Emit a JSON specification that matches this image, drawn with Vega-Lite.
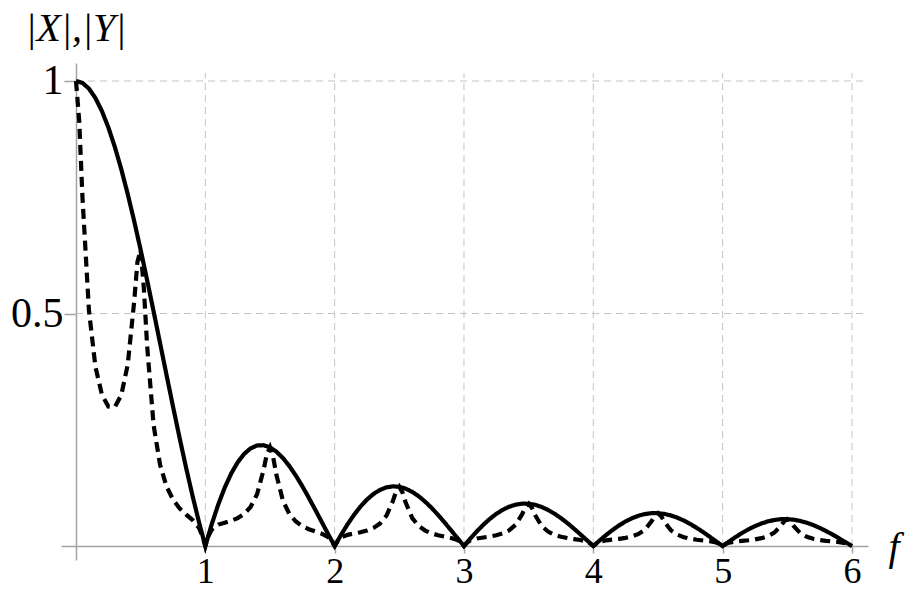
{
"$schema": "https://vega.github.io/schema/vega-lite/v6.json",
"autosize": "none",
"width": 807,
"height": 497,
"padding": {"left": 61, "top": 63, "right": 42, "bottom": 30},
"background": "white",
"config": {"view": {"stroke": null}, "axis": {"grid": false, "domainColor": "#a3a3a3", "tickColor": "#a3a3a3", "domainWidth": 1.5, "tickWidth": 1.5, "labelFont": "Liberation Serif", "labelColor": "black", "titleFont": "Liberation Serif", "titleColor": "black", "titleFontWeight": "normal", "titleFontStyle": "italic"}},
"datasets": {
"vgrid": [{"f":1},{"f":2},{"f":3},{"f":4},{"f":5},{"f":6}],
"hgrid": [{"v":0.5},{"v":1}],
"curves": [
{"s":"X","f":0,"v":1},{"s":"X","f":0.05,"v":0.99589},{"s":"X","f":0.1,"v":0.98363},{"s":"X","f":0.15,"v":0.9634},{"s":"X","f":0.2,"v":0.93549},{"s":"X","f":0.25,"v":0.90032},{"s":"X","f":0.3,"v":0.85839},{"s":"X","f":0.35,"v":0.81033},{"s":"X","f":0.4,"v":0.75683},{"s":"X","f":0.45,"v":0.69865},
{"s":"X","f":0.5,"v":0.63662},{"s":"X","f":0.55,"v":0.57162},{"s":"X","f":0.6,"v":0.50455},{"s":"X","f":0.65,"v":0.43633},{"s":"X","f":0.7,"v":0.36788},{"s":"X","f":0.75,"v":0.30011},{"s":"X","f":0.8,"v":0.23387},{"s":"X","f":0.85,"v":0.17001},{"s":"X","f":0.9,"v":0.10929},{"s":"X","f":0.95,"v":0.05241},
{"s":"X","f":1,"v":0},{"s":"X","f":1.05,"v":0.04742},{"s":"X","f":1.1,"v":0.08942},{"s":"X","f":1.15,"v":0.12566},{"s":"X","f":1.2,"v":0.15592},{"s":"X","f":1.25,"v":0.18006},{"s":"X","f":1.3,"v":0.19809},{"s":"X","f":1.35,"v":0.21009},{"s":"X","f":1.4,"v":0.21624},{"s":"X","f":1.45,"v":0.21682},
{"s":"X","f":1.5,"v":0.21221},{"s":"X","f":1.55,"v":0.20283},{"s":"X","f":1.6,"v":0.18921},{"s":"X","f":1.65,"v":0.17189},{"s":"X","f":1.7,"v":0.15148},{"s":"X","f":1.75,"v":0.12862},{"s":"X","f":1.8,"v":0.10394},{"s":"X","f":1.85,"v":0.07811},{"s":"X","f":1.9,"v":0.05177},{"s":"X","f":1.95,"v":0.02554},
{"s":"X","f":2,"v":0},{"s":"X","f":2.05,"v":0.02429},{"s":"X","f":2.1,"v":0.04684},{"s":"X","f":2.15,"v":0.06721},{"s":"X","f":2.2,"v":0.08505},{"s":"X","f":2.25,"v":0.10004},{"s":"X","f":2.3,"v":0.11196},{"s":"X","f":2.35,"v":0.12069},{"s":"X","f":2.4,"v":0.12614},{"s":"X","f":2.45,"v":0.12832},
{"s":"X","f":2.5,"v":0.12732},{"s":"X","f":2.55,"v":0.12329},{"s":"X","f":2.6,"v":0.11643},{"s":"X","f":2.65,"v":0.10703},{"s":"X","f":2.7,"v":0.09538},{"s":"X","f":2.75,"v":0.08185},{"s":"X","f":2.8,"v":0.06682},{"s":"X","f":2.85,"v":0.05071},{"s":"X","f":2.9,"v":0.03392},{"s":"X","f":2.95,"v":0.01688},
{"s":"X","f":3,"v":0},{"s":"X","f":3.05,"v":0.01633},{"s":"X","f":3.1,"v":0.03173},{"s":"X","f":3.15,"v":0.04588},{"s":"X","f":3.2,"v":0.05847},{"s":"X","f":3.25,"v":0.06926},{"s":"X","f":3.3,"v":0.07804},{"s":"X","f":3.35,"v":0.08466},{"s":"X","f":3.4,"v":0.08904},{"s":"X","f":3.45,"v":0.09113},
{"s":"X","f":3.5,"v":0.09095},{"s":"X","f":3.55,"v":0.08856},{"s":"X","f":3.6,"v":0.08409},{"s":"X","f":3.65,"v":0.0777},{"s":"X","f":3.7,"v":0.0696},{"s":"X","f":3.75,"v":0.06002},{"s":"X","f":3.8,"v":0.04924},{"s":"X","f":3.85,"v":0.03754},{"s":"X","f":3.9,"v":0.02522},{"s":"X","f":3.95,"v":0.01261},
{"s":"X","f":4,"v":0},{"s":"X","f":4.05,"v":0.01229},{"s":"X","f":4.1,"v":0.02399},{"s":"X","f":4.15,"v":0.03482},{"s":"X","f":4.2,"v":0.04455},{"s":"X","f":4.25,"v":0.05296},{"s":"X","f":4.3,"v":0.05989},{"s":"X","f":4.35,"v":0.0652},{"s":"X","f":4.4,"v":0.0688},{"s":"X","f":4.45,"v":0.07065},
{"s":"X","f":4.5,"v":0.07074},{"s":"X","f":4.55,"v":0.0691},{"s":"X","f":4.6,"v":0.06581},{"s":"X","f":4.65,"v":0.06099},{"s":"X","f":4.7,"v":0.05479},{"s":"X","f":4.75,"v":0.04739},{"s":"X","f":4.8,"v":0.03898},{"s":"X","f":4.85,"v":0.0298},{"s":"X","f":4.9,"v":0.02007},{"s":"X","f":4.95,"v":0.01006},
{"s":"X","f":5,"v":0},{"s":"X","f":5.05,"v":0.00986},{"s":"X","f":5.1,"v":0.01929},{"s":"X","f":5.15,"v":0.02806},{"s":"X","f":5.2,"v":0.03598},{"s":"X","f":5.25,"v":0.04287},{"s":"X","f":5.3,"v":0.04859},{"s":"X","f":5.35,"v":0.05301},{"s":"X","f":5.4,"v":0.05606},{"s":"X","f":5.45,"v":0.05769},
{"s":"X","f":5.5,"v":0.05787},{"s":"X","f":5.55,"v":0.05665},{"s":"X","f":5.6,"v":0.05406},{"s":"X","f":5.65,"v":0.0502},{"s":"X","f":5.7,"v":0.04518},{"s":"X","f":5.75,"v":0.03914},{"s":"X","f":5.8,"v":0.03226},{"s":"X","f":5.85,"v":0.0247},{"s":"X","f":5.9,"v":0.01667},{"s":"X","f":5.95,"v":0.00837},
{"s":"X","f":6,"v":0},
{"s":"Y","f":0,"v":1},{"s":"Y","f":0.025,"v":0.91355},{"s":"Y","f":0.05,"v":0.74984},{"s":"Y","f":0.1,"v":0.507},{"s":"Y","f":0.15,"v":0.38579},{"s":"Y","f":0.2,"v":0.32597},{"s":"Y","f":0.25,"v":0.30011},{"s":"Y","f":0.3,"v":0.29911},{"s":"Y","f":0.35,"v":0.3245},{"s":"Y","f":0.4,"v":0.3901},{"s":"Y","f":0.45,"v":0.52604},{"s":"Y","f":0.475,"v":0.61093},
{"s":"Y","f":0.5,"v":0.63662},{"s":"Y","f":0.525,"v":0.55275},{"s":"Y","f":0.55,"v":0.43039},{"s":"Y","f":0.6,"v":0.26007},{"s":"Y","f":0.65,"v":0.17473},{"s":"Y","f":0.7,"v":0.12819},{"s":"Y","f":0.75,"v":0.10004},{"s":"Y","f":0.8,"v":0.08149},{"s":"Y","f":0.85,"v":0.06808},{"s":"Y","f":0.9,"v":0.05633},{"s":"Y","f":0.95,"v":0.03946},{"s":"Y","f":0.975,"v":0.02342},
{"s":"Y","f":1,"v":0},{"s":"Y","f":1.025,"v":0.02228},{"s":"Y","f":1.05,"v":0.0357},{"s":"Y","f":1.1,"v":0.04609},{"s":"Y","f":1.15,"v":0.05032},{"s":"Y","f":1.2,"v":0.05433},{"s":"Y","f":1.25,"v":0.06002},{"s":"Y","f":1.3,"v":0.06902},{"s":"Y","f":1.35,"v":0.08413},{"s":"Y","f":1.4,"v":0.11146},{"s":"Y","f":1.45,"v":0.16325},{"s":"Y","f":1.475,"v":0.19674},
{"s":"Y","f":1.5,"v":0.21221},{"s":"Y","f":1.525,"v":0.1903},{"s":"Y","f":1.55,"v":0.15272},{"s":"Y","f":1.6,"v":0.09753},{"s":"Y","f":1.65,"v":0.06883},{"s":"Y","f":1.7,"v":0.05278},{"s":"Y","f":1.75,"v":0.04287},{"s":"Y","f":1.8,"v":0.03622},{"s":"Y","f":1.85,"v":0.03128},{"s":"Y","f":1.9,"v":0.02668},{"s":"Y","f":1.95,"v":0.01923},{"s":"Y","f":1.975,"v":0.01157},
{"s":"Y","f":2,"v":0},{"s":"Y","f":2.025,"v":0.01128},{"s":"Y","f":2.05,"v":0.01829},{"s":"Y","f":2.1,"v":0.02414},{"s":"Y","f":2.15,"v":0.02691},{"s":"Y","f":2.2,"v":0.02964},{"s":"Y","f":2.25,"v":0.03335},{"s":"Y","f":2.3,"v":0.03901},{"s":"Y","f":2.35,"v":0.04833},{"s":"Y","f":2.4,"v":0.06502},{"s":"Y","f":2.45,"v":0.09662},{"s":"Y","f":2.475,"v":0.11725},
{"s":"Y","f":2.5,"v":0.12732},{"s":"Y","f":2.525,"v":0.11493},{"s":"Y","f":2.55,"v":0.09283},{"s":"Y","f":2.6,"v":0.06001},{"s":"Y","f":2.65,"v":0.04286},{"s":"Y","f":2.7,"v":0.03324},{"s":"Y","f":2.75,"v":0.02728},{"s":"Y","f":2.8,"v":0.02328},{"s":"Y","f":2.85,"v":0.02031},{"s":"Y","f":2.9,"v":0.01748},{"s":"Y","f":2.95,"v":0.01271},{"s":"Y","f":2.975,"v":0.00768},
{"s":"Y","f":3,"v":0},{"s":"Y","f":3.025,"v":0.00755},{"s":"Y","f":3.05,"v":0.0123},{"s":"Y","f":3.1,"v":0.01636},{"s":"Y","f":3.15,"v":0.01837},{"s":"Y","f":3.2,"v":0.02037},{"s":"Y","f":3.25,"v":0.02309},{"s":"Y","f":3.3,"v":0.02719},{"s":"Y","f":3.35,"v":0.0339},{"s":"Y","f":3.4,"v":0.04589},{"s":"Y","f":3.45,"v":0.06861},{"s":"Y","f":3.475,"v":0.08351},
{"s":"Y","f":3.5,"v":0.09095},{"s":"Y","f":3.525,"v":0.08232},{"s":"Y","f":3.55,"v":0.06668},{"s":"Y","f":3.6,"v":0.04334},{"s":"Y","f":3.65,"v":0.03111},{"s":"Y","f":3.7,"v":0.02425},{"s":"Y","f":3.75,"v":0.02001},{"s":"Y","f":3.8,"v":0.01716},{"s":"Y","f":3.85,"v":0.01503},{"s":"Y","f":3.9,"v":0.013},{"s":"Y","f":3.95,"v":0.00949},{"s":"Y","f":3.975,"v":0.00575},
{"s":"Y","f":4,"v":0},{"s":"Y","f":4.025,"v":0.00567},{"s":"Y","f":4.05,"v":0.00925},{"s":"Y","f":4.1,"v":0.01237},{"s":"Y","f":4.15,"v":0.01394},{"s":"Y","f":4.2,"v":0.01552},{"s":"Y","f":4.25,"v":0.01765},{"s":"Y","f":4.3,"v":0.02087},{"s":"Y","f":4.35,"v":0.02611},{"s":"Y","f":4.4,"v":0.03546},{"s":"Y","f":4.45,"v":0.05319},{"s":"Y","f":4.475,"v":0.06485},
{"s":"Y","f":4.5,"v":0.07074},{"s":"Y","f":4.525,"v":0.06413},{"s":"Y","f":4.55,"v":0.05203},{"s":"Y","f":4.6,"v":0.03392},{"s":"Y","f":4.65,"v":0.02442},{"s":"Y","f":4.7,"v":0.01909},{"s":"Y","f":4.75,"v":0.0158},{"s":"Y","f":4.8,"v":0.01358},{"s":"Y","f":4.85,"v":0.01193},{"s":"Y","f":4.9,"v":0.01034},{"s":"Y","f":4.95,"v":0.00757},{"s":"Y","f":4.975,"v":0.00459},
{"s":"Y","f":5,"v":0},{"s":"Y","f":5.025,"v":0.00455},{"s":"Y","f":5.05,"v":0.00742},{"s":"Y","f":5.1,"v":0.00994},{"s":"Y","f":5.15,"v":0.01124},{"s":"Y","f":5.2,"v":0.01254},{"s":"Y","f":5.25,"v":0.01429},{"s":"Y","f":5.3,"v":0.01693},{"s":"Y","f":5.35,"v":0.02123},{"s":"Y","f":5.4,"v":0.0289},{"s":"Y","f":5.45,"v":0.04344},{"s":"Y","f":5.475,"v":0.053},
{"s":"Y","f":5.5,"v":0.05787},{"s":"Y","f":5.525,"v":0.05252},{"s":"Y","f":5.55,"v":0.04265},{"s":"Y","f":5.6,"v":0.02786},{"s":"Y","f":5.65,"v":0.0201},{"s":"Y","f":5.7,"v":0.01574},{"s":"Y","f":5.75,"v":0.01305},{"s":"Y","f":5.8,"v":0.01124},{"s":"Y","f":5.85,"v":0.00989},{"s":"Y","f":5.9,"v":0.00859},{"s":"Y","f":5.95,"v":0.0063},{"s":"Y","f":5.975,"v":0.00382},
{"s":"Y","f":6,"v":0}
]
},
"layer": [
{
"data": {"name": "vgrid"},
"mark": {"type": "rule", "color": "#c4c4c4", "strokeWidth": 1, "strokeDash": [7, 5]},
"encoding": {
"x": {"field": "f", "type": "quantitative", "title": "f"},
"y": {"datum": 0, "type": "quantitative", "title": "|X|,|Y|"},
"y2": {"datum": 1.017}
}
},
{
"data": {"name": "hgrid"},
"mark": {"type": "rule", "color": "#c4c4c4", "strokeWidth": 1, "strokeDash": [7, 5]},
"encoding": {
"y": {"field": "v", "type": "quantitative", "title": "|X|,|Y|"},
"x": {"datum": 0, "type": "quantitative", "title": "f"},
"x2": {"datum": 6.124}
}
},
{
"data": {"name": "curves"},
"mark": {"type": "line", "color": "black", "strokeWidth": 4.2, "interpolate": "linear", "clip": false},
"encoding": {
"x": {"field": "f", "type": "quantitative", "title": "f",
"scale": {"domain": [-0.116, 6.124], "nice": false, "zero": false},
"axis": {"values": [1, 2, 3, 4, 5, 6], "offset": -14, "tickSize": 7, "labelFontSize": 36, "labelPadding": 1, "labelFlush": false, "labelOverlap": false, "format": "~g",
"titleFontSize": 40, "titleX": 827, "titleY": 13, "titleAlign": "left", "titleBaseline": "alphabetic", "titleAngle": 0}},
"y": {"field": "v", "type": "quantitative", "title": "|X|,|Y|",
"scale": {"domain": [-0.03, 1.0387], "nice": false, "zero": false},
"axis": {"values": [0.5, 1], "offset": -15, "tickSize": 12, "labelFontSize": 42, "labelPadding": 1, "labelFlush": false, "labelOverlap": false, "format": "~g",
"titleFontSize": 40, "titleX": -51, "titleY": -23, "titleAlign": "left", "titleBaseline": "alphabetic", "titleAngle": 0}},
"detail": {"field": "s", "type": "nominal"},
"strokeDash": {"field": "s", "type": "nominal", "scale": {"domain": ["X", "Y"], "range": [[1, 0], [10, 6]]}, "legend": null}
}
}
]
}
